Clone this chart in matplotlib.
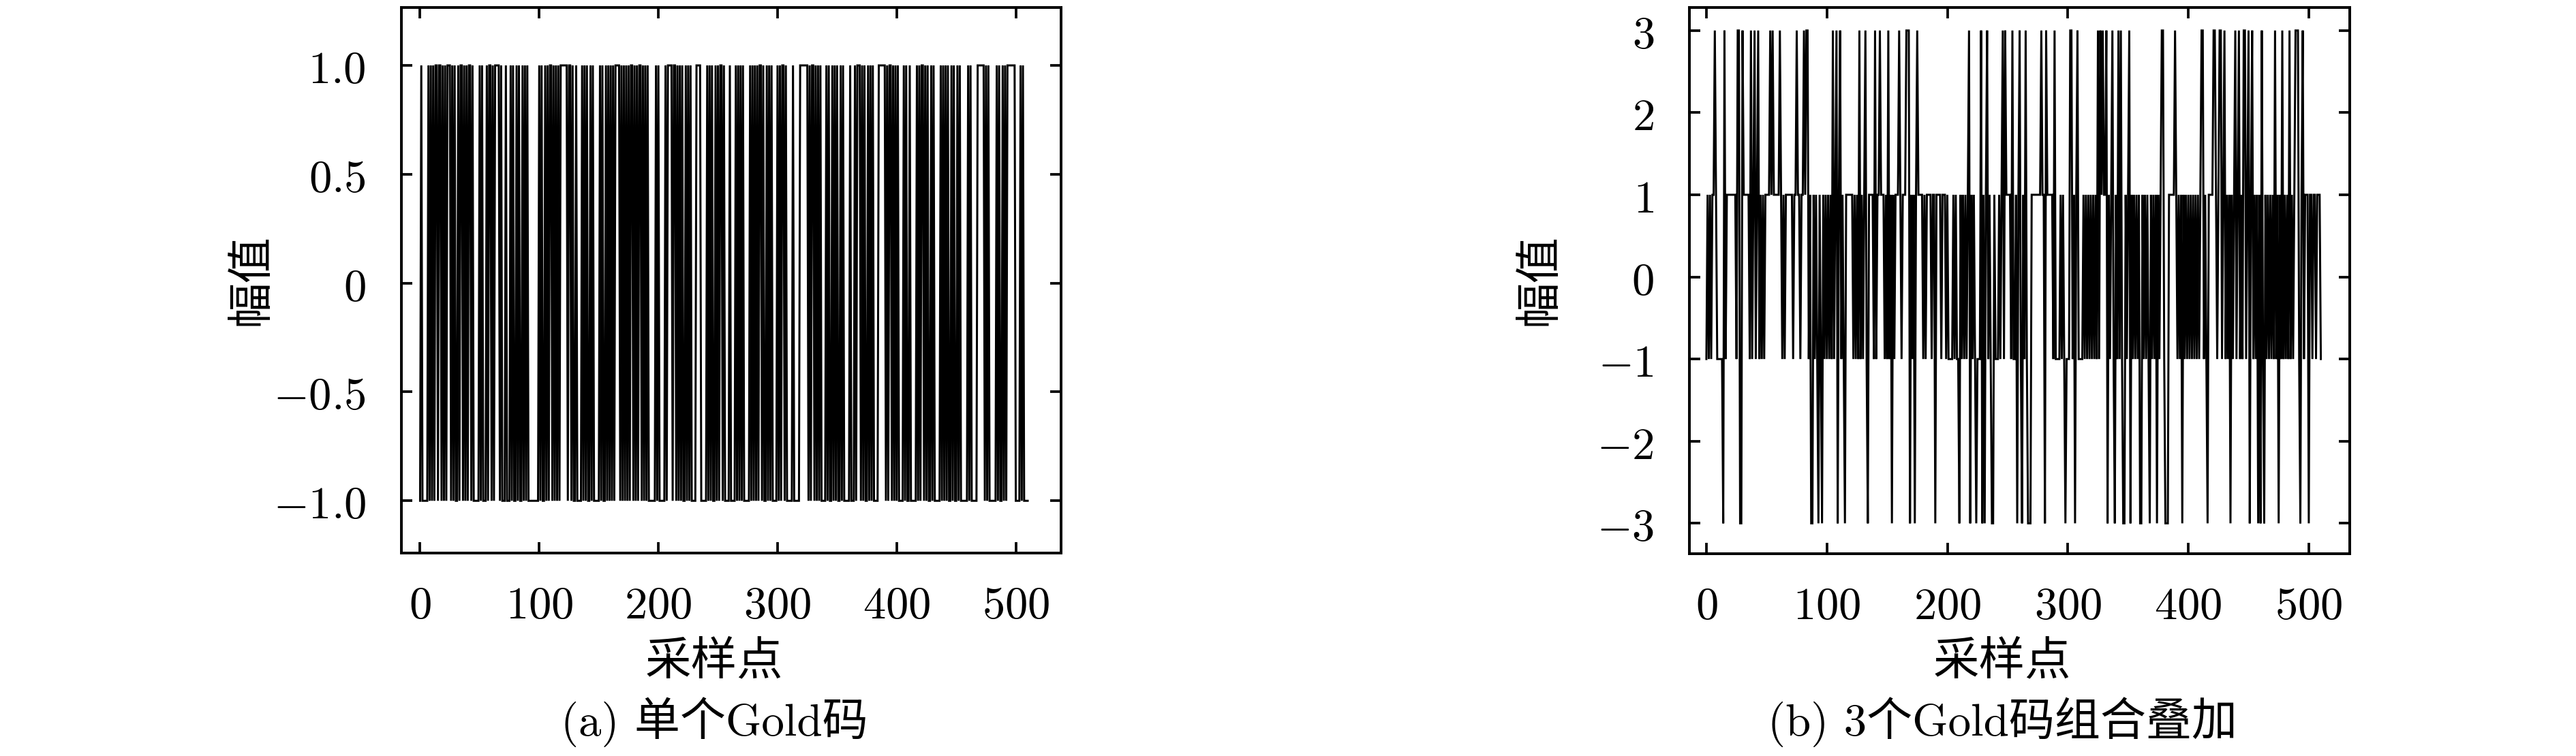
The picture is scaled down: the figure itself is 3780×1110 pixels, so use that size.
import numpy as np
import matplotlib
matplotlib.use('Agg')
import matplotlib.pyplot as plt

plt.rcParams['mathtext.fontset'] = 'cm'
plt.rcParams['axes.formatter.use_mathtext'] = True
TXT = ['cmr10', 'Noto Sans CJK SC', 'DejaVu Sans']
W, H = 3780, 1110

n_samples = 511
xticks = [0, 100, 200, 300, 400, 500]
yticks_a = [-1.0, -0.5, 0, 0.5, 1.0]
ylabels_a = ['$-1.0$', '$-0.5$', '$0$', '$0.5$', '$1.0$']
yticks_b = [-3, -2, -1, 0, 1, 2, 3]
ylabels_b = ['$-3$', '$-2$', '$-1$', '$0$', '$1$', '$2$', '$3$']
xlabel = '采样点'
ylabel = '幅值'
caption_a = '(a) 单个Gold码'
caption_b = '(b) 3个Gold码组合叠加'

# between them the trace flips every sample, apart from the repeats listed.
a_run_start = [2, 23, 46, 53, 63, 69, 74, 91, 119, 133, 147, 164, 193, 201, 208, 229, 232, 236, 257, 261, 273, 296, 309, 315, 319, 337, 357, 362, 367, 381, 385, 402, 413, 432, 454, 463, 468, 478, 494, 500, 508]
a_run_stop = [7, 26, 50, 56, 67, 72, 76, 100, 124, 136, 151, 168, 198, 206, 212, 232, 236, 241, 260, 265, 277, 300, 313, 319, 326, 341, 361, 365, 370, 385, 391, 406, 417, 437, 460, 468, 474, 484, 500, 504, 511]
a_run_level = [-1, 1, -1, -1, 1, -1, -1, -1, 1, -1, -1, 1, -1, -1, 1, -1, 1, -1, -1, -1, -1, -1, -1, -1, 1, -1, -1, -1, 1, -1, 1, -1, -1, -1, -1, -1, 1, -1, 1, -1, -1]
a_repeat = [14, 17, 31, 35, 42, 59, 80, 85, 104, 110, 126, 130, 142, 155, 178, 185, 214, 222, 247, 253, 286, 290, 305, 330, 345, 352, 375, 395, 410, 422, 428, 445, 450, 488]

# Panel (b): spikes to +3 and -3, plus long runs at +1 / -1.
b_peak_pos = [7, 15, 26, 27, 30, 37, 40, 43, 53, 55, 61, 75, 81, 83, 84, 105, 108, 111, 127, 132, 140, 144, 151, 160, 166, 167, 168, 175, 218, 228, 233, 246, 248, 254, 260, 265, 278, 282, 289, 302, 303, 308, 325, 327, 329, 332, 337, 342, 344, 351, 360, 368, 378, 379, 389, 411, 412, 421, 422, 426, 427, 430, 439, 442, 446, 447, 450, 453, 461, 472, 478, 484, 489, 490, 491, 495]
b_peak_neg = [14, 28, 29, 87, 88, 93, 96, 109, 115, 134, 154, 169, 173, 190, 210, 219, 224, 229, 231, 237, 238, 258, 262, 267, 268, 269, 281, 298, 306, 333, 339, 346, 347, 352, 360, 361, 368, 374, 381, 382, 383, 395, 416, 435, 451, 458, 460, 463, 475, 493, 500]
b_run_start = [5, 9, 18, 29, 50, 58, 66, 73, 79, 116, 135, 143, 158, 163, 174, 184, 188, 192, 196, 202, 208, 225, 240, 249, 253, 271, 276, 282, 291, 297, 309, 328, 385, 417, 498, 501, 504, 507]
b_run_stop = [9, 14, 25, 36, 58, 63, 72, 78, 85, 122, 139, 148, 162, 168, 180, 187, 191, 195, 199, 205, 211, 228, 243, 253, 257, 276, 281, 288, 294, 302, 313, 334, 391, 424, 500, 503, 506, 510]
b_run_level = [1, -1, 1, 1, 1, 1, 1, 1, 1, 1, 1, 1, 1, 1, 1, 1, 1, 1, 1, -1, -1, -1, -1, 1, -1, 1, 1, 1, -1, -1, -1, 1, 1, 1, 1, 1, 1, 1]


def decode(run_start, run_stop, run_level, repeat=(), peak_pos=(), peak_neg=()):
    fixed = {}
    for a, b, lvl in zip(run_start, run_stop, run_level):
        for i in range(a, b):
            fixed[i] = lvl
    for i in peak_pos:
        fixed[i] = 3
    for i in peak_neg:
        fixed[i] = -3
    out = []
    prev = 1
    for i in range(n_samples):
        if i in fixed:
            v = fixed[i]
        elif i in repeat:
            v = prev
        else:
            v = -1 if prev > 0 else 1
        out.append(v)
        prev = v
    return np.array(out, dtype=float)


values_a = decode(a_run_start, a_run_stop, a_run_level, repeat=a_repeat)
values_b = decode(b_run_start, b_run_stop, b_run_level, peak_pos=b_peak_pos, peak_neg=b_peak_neg)
samples = np.arange(n_samples)

fig = plt.figure(figsize=(W / 300, H / 300), dpi=300)


def panel(box, xlim, ylim, vals, yt, yl, yl_x, label_x, caption):
    l, t, r, b = box
    ax = fig.add_axes([l / W, 1 - b / H, (r - l) / W, (b - t) / H])
    ax.plot(samples, vals, color='k', lw=0.72, solid_joinstyle='miter')
    ax.set_xlim(*xlim)
    ax.set_ylim(*ylim)
    ax.set_xticks(xticks)
    ax.set_xticklabels([f'${v}$' for v in xticks], fontsize=16)
    ax.set_yticks(yt)
    ax.set_yticklabels(yl, fontsize=16)
    ax.tick_params(direction='in', top=True, right=True, length=3.9, width=0.9)
    ax.tick_params(axis='x', pad=10.5)
    ax.tick_params(axis='y', pad=12.5)
    for s in ax.spines.values():
        s.set_linewidth(0.95)
    fig.text(label_x / W, 1 - 972 / H, xlabel, family=TXT, fontsize=16.2, ha='center', va='center')
    fig.text(label_x / W, 1 - 1060 / H, caption, family=TXT, fontsize=16.1, ha='center', va='center')
    fig.text(yl_x / W, 1 - 410 / H, ylabel, family=TXT, fontsize=16.2, ha='center', va='center', rotation=90)


panel((589, 11, 1557, 812), (-15.7, 538), (-1.24, 1.266), values_a, yticks_a, ylabels_a, 370, 1048, caption_a)
panel((2479, 11, 3448, 813), (-14.1, 534), (-3.37, 3.28), values_b, yticks_b, ylabels_b, 2260, 2938, caption_b)

fig.savefig('out.png', dpi=300, facecolor='white')
